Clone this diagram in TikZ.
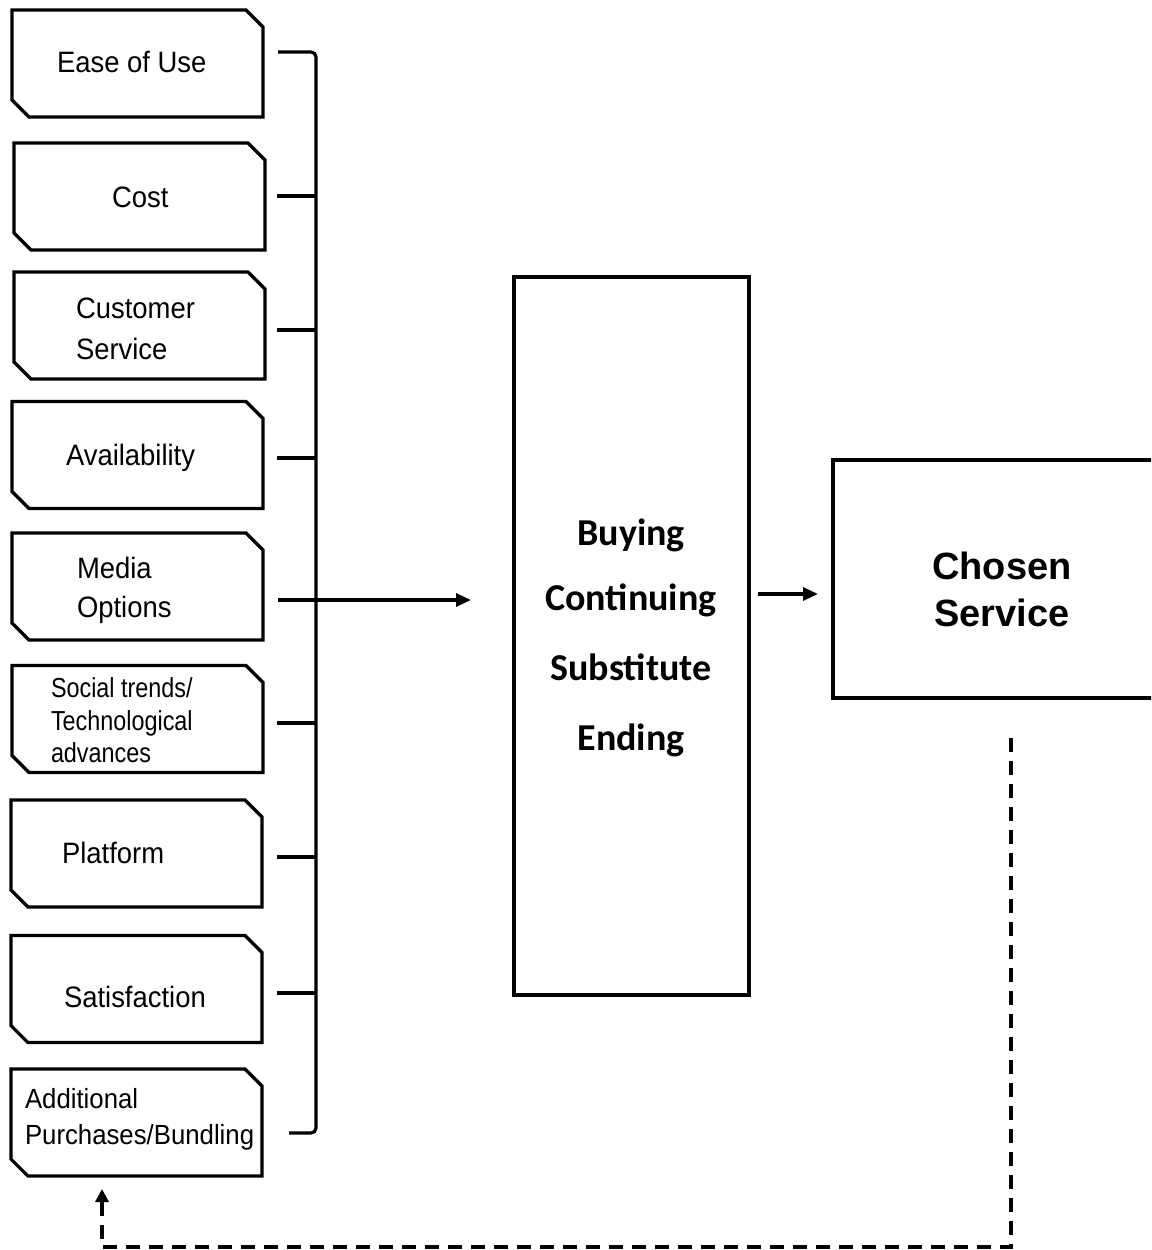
\documentclass[tikz,border=0pt]{standalone}
\usepackage{fontspec}
\usetikzlibrary{arrows.meta}
\newfontfamily\arialf{Liberation Sans}
\newfontfamily\arialn[FakeStretch=0.93]{Liberation Sans}
\newfontfamily\arials[FakeStretch=0.85]{Liberation Sans}
\newfontfamily\calibf{Carlito}
\begin{document}
\begin{tikzpicture}[x=1pt,y=-1pt,
  fbox/.style={minimum width=251pt, minimum height=107pt, inner sep=0pt, outer sep=0pt, draw=none},
  boxline/.style={line width=3.2pt, line join=miter},
  lbl/.style={inner sep=0pt, outer sep=0pt, anchor=base west, font=\arialn\fontsize{29.5}{33}\selectfont},
  lblS/.style={lbl, font=\arials\fontsize{27.5}{28}\selectfont},
  lblA/.style={lbl, font=\arialn\fontsize{27.7}{30}\selectfont},
  midtxt/.style={inner sep=0pt, anchor=base, font=\calibf\bfseries\fontsize{38}{44}\selectfont},
  chtxt/.style={inner sep=0pt, anchor=base, font=\arialf\bfseries\fontsize{38}{44}\selectfont},
  wire/.style={line width=3.2pt},
  arr/.style={line width=3.2pt, -{Triangle[length=15pt,width=13pt]}},
  dashline/.style={line width=3.2pt, dash pattern=on 14pt off 9pt}
]
\clip (0,0) rectangle (1151,1250);
\fill[white] (0,0) rectangle (1151,1250);

% factor boxes
\node[fbox] (f1) at (137.5,63.5) {};
\node[fbox] (f2) at (139.5,196.5) {};
\node[fbox] (f3) at (139.5,325.5) {};
\node[fbox] (f4) at (137.5,455) {};
\node[fbox] (f5) at (137.5,586.5) {};
\node[fbox] (f6) at (137.5,719) {};
\node[fbox] (f7) at (136.5,853.5) {};
\node[fbox] (f8) at (136.5,989) {};
\node[fbox] (f9) at (136.5,1122.5) {};
\foreach \n in {f1,f2,f3,f4,f5,f6,f7,f8,f9}
  \draw[boxline] (\n.north west) -- ([xshift=-17pt]\n.north east) -- ([yshift=-17pt]\n.north east)
     -- (\n.south east) -- ([xshift=17pt]\n.south west) -- ([yshift=17pt]\n.south west) -- cycle;

% labels
\node[lbl] (t1) at (57,72) {Ease of Use};
\node[lbl] (t2) at (112,207) {Cost};
\node[lbl] (t3a) at (76,318) {Customer};
\node[lbl] (t3b) at (76,359) {Service};
\node[lbl] (t4) at (66,465) {Availability};
\node[lbl] (t5a) at (77,578) {Media};
\node[lbl] (t5b) at (77,617) {Options};
\node[lblS] (t6a) at (51,697) {Social trends/};
\node[lblS] (t6b) at (51,730) {Technological};
\node[lblS] (t6c) at (51,762) {advances};
\node[lbl] (t7) at (62,863) {Platform};
\node[lbl] (t8) at (64,1007) {Satisfaction};
\node[lblA] (t9a) at (25,1108) {Additional};
\node[lblA] (t9b) at (25,1144) {Purchases/Bundling};

% bracket bus
\coordinate (btop) at (316,52);
\coordinate (bbot) at (316,1133);
\coordinate (s1) at (278,52);
\coordinate (s9) at (289,1133);
\draw[wire, rounded corners=5pt] (s1) -- (btop) -- (bbot) -- (s9);
\foreach \y/\k in {196/2,330/3,458/4,723/6,857/7,993/8}{
  \coordinate (s\k) at (277,\y);
  \coordinate (b\k) at (316,\y);
  \draw[wire] (s\k) -- (b\k);
}

% middle box
\node[draw, line width=3.2pt, minimum width=235pt, minimum height=718pt, inner sep=0pt] (mid) at (631.5,636) {};
\node[midtxt] (m1) at (631,545) {Buying};
\node[midtxt] (m2) at (631,610) {Continuing};
\node[midtxt] (m3) at (631,680) {Substitute};
\node[midtxt] (m4) at (631,750) {Ending};

% arrow into middle
\coordinate (s5) at (278,600);
\coordinate (a5) at (471,600);
\draw[arr] (s5) -- (a5);

% chosen box
\node[draw, line width=3.2pt, minimum width=338pt, minimum height=238pt, inner sep=0pt] (cs) at (1002,579) {};
\node[chtxt] (c1) at (1002,579) {Chosen};
\node[chtxt] (c2) at (1002,626) {Service};

\coordinate (o1) at (758,594);
\coordinate (o2) at (818,594);
\draw[arr] (o1) -- (o2);

% dashed feedback
\coordinate (d0) at (1011,738);
\coordinate (d1) at (1011,1247);
\coordinate (d2) at (102,1247);
\coordinate (d3) at (102,1189);
\draw[dashline, -{Triangle[length=13pt,width=13pt]}] (d0) -- (d1) -- (d2) -- (d3);
\end{tikzpicture}
\end{document}
